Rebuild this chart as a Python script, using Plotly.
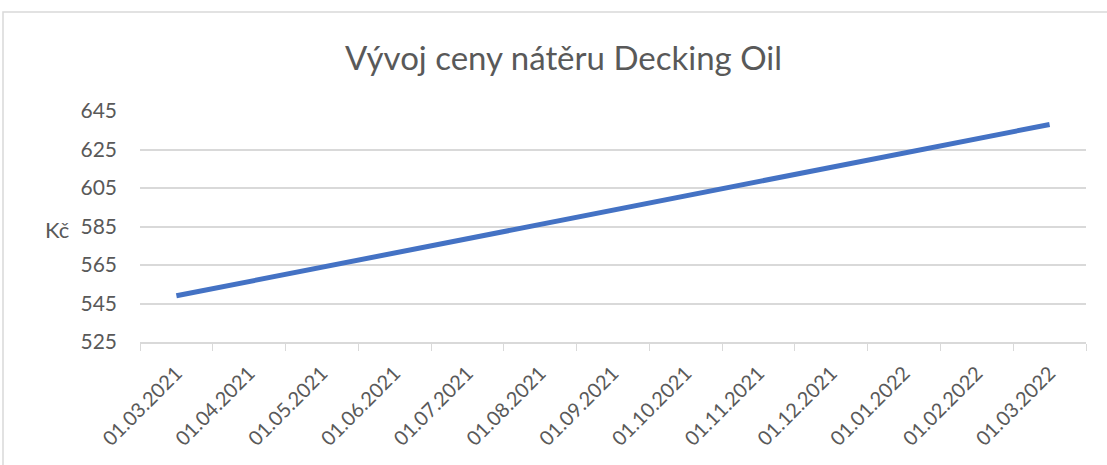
import plotly.graph_objects as go

categories = ["01.03.2021", "01.04.2021", "01.05.2021", "01.06.2021", "01.07.2021",
              "01.08.2021", "01.09.2021", "01.10.2021", "01.11.2021", "01.12.2021",
              "01.01.2022", "01.02.2022", "01.03.2022"]
point_dates = ["01.03.2021", "01.03.2022"]
prices = [549, 638]
y_ticks = [525, 545, 565, 585, 605, 625, 645]

FONT = "Lato, 'Open Sans', sans-serif"
GRAY = "#595959"
GRID = "#d9d9d9"

fig = go.Figure(go.Scatter(
    x=point_dates, y=prices, mode="lines",
    line=dict(color="#4472C4", width=5),
    hoverinfo="x+y",
))

L, R, T, B = 140, 21, 111, 123
W, H = 1107, 465
pw = W - L - R
ph = H - T - B

fig.update_layout(
    width=W, height=H,
    margin=dict(l=L, r=R, t=T, b=B),
    paper_bgcolor="white", plot_bgcolor="white",
    showlegend=False,
    font=dict(family=FONT, color=GRAY, size=21),
    xaxis=dict(
        type="category", categoryorder="array", categoryarray=categories,
        tickvals=categories,
        range=[-0.5, len(categories) - 0.5],
        tickson="boundaries", ticks="outside", ticklen=7, tickcolor=GRID,
        showgrid=False, showline=True, linecolor=GRID, linewidth=1.5,
        tickangle=-45, tickfont=dict(size=20, color=GRAY),
        ticklabelstandoff=10,
        zeroline=False,
    ),
    yaxis=dict(
        range=[525, 645], tickvals=y_ticks,
        showgrid=True, gridcolor=GRID, gridwidth=1.5,
        showline=False, zeroline=False,
        ticks="", ticklabelstandoff=22,
        tickfont=dict(size=21, color=GRAY),
    ),
    annotations=[
        dict(text="Vývoj ceny nátěru Decking Oil", xref="paper", yref="paper",
             x=(563 - L) / pw, y=1 + (T - 57) / ph, showarrow=False,
             font=dict(size=33, color=GRAY, family=FONT), xanchor="center", yanchor="middle"),
        dict(text="Kč", xref="paper", yref="paper",
             x=(57 - L) / pw, y=(H - B - 229) / ph, showarrow=False,
             font=dict(size=22, color=GRAY, family=FONT), xanchor="center", yanchor="middle"),
    ],
    shapes=[
        dict(type="rect", xref="paper", yref="paper",
             x0=(3 - L) / pw, y0=-1.0, x1=1.2, y1=1 + (T - 12) / ph,
             line=dict(color=GRID, width=1.5), fillcolor="rgba(0,0,0,0)", layer="below"),
    ],
)

fig.write_html("out.html", config={"displayModeBar": False},
               post_script="document.body.style.margin='0';")
